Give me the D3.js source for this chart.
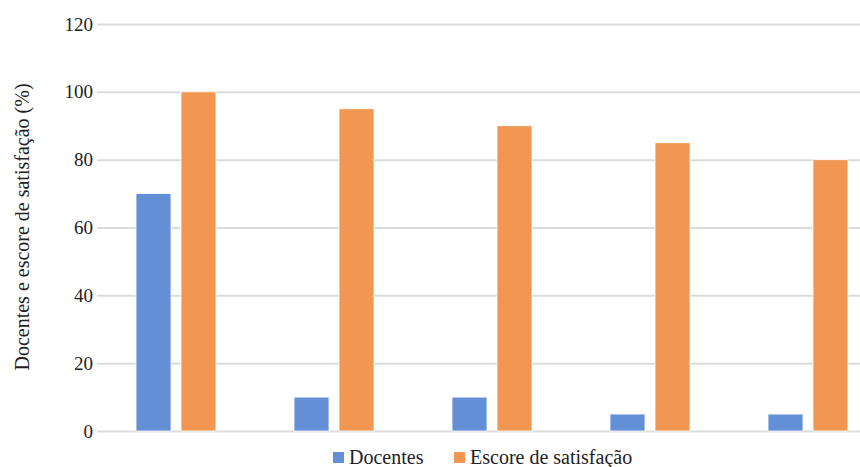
<!DOCTYPE html>
<html>
<head>
<meta charset="utf-8">
<script src="https://cdn.jsdelivr.net/npm/d3@7"></script>
<style>
  html, body { margin: 0; padding: 0; background: #fff; }
  svg { display: block; }
  svg text { font-family: "Liberation Serif", "DejaVu Serif", "Noto Serif", "Times New Roman", Times, serif !important; fill: #222; }
</style>
</head>
<body>
<svg id="chart" width="860" height="467"></svg>
<script>
// Groups (unlabelled on the axis)
const categories = ["G1", "G2", "G3", "G4", "G5"];
const seriesNames = ["Docentes", "Escore de satisfação"];
const docentes = [70, 10, 10, 5, 5];
const escore = [100, 95, 90, 85, 80];
const yTicks = [0, 20, 40, 60, 80, 100, 120];
const yLabel = "Docentes e escore de satisfação (%)";

const colors = ["#628fd6", "#f19752"];
const W = 860, H = 467;
const plotLeft = 97, plotRight = 887, plotTop = 24, plotBottom = 431;

const svg = d3.select("#chart");

const x = d3.scaleBand().domain(categories).range([plotLeft, plotRight]).paddingInner(0).paddingOuter(0);
const xs = d3.scaleBand().domain(seriesNames).range([0, x.bandwidth()]).paddingInner(0.222).paddingOuter(0.867);
const y = d3.scaleLinear().domain([0, 120]).range([plotBottom, plotTop]);

// Gridlines + tick labels
const yAxis = d3.axisLeft(y).tickValues(yTicks).tickSize(-(W - plotLeft)).tickPadding(6);
const gy = svg.append("g").attr("transform", `translate(${plotLeft},0)`).call(yAxis)
  .attr("font-family", null).attr("font-size", null);
gy.select(".domain").remove();
gy.selectAll(".tick line").attr("stroke", "#dcdcdc").attr("stroke-width", 2);
gy.selectAll(".tick text")
  .attr("x", -4)
  .style("font-size", "19px")
  .attr("fill", "#222");

// Bars
const rows = categories.map((c, i) => ({ c, values: [docentes[i], escore[i]] }));
const groups = svg.append("g").selectAll("g").data(rows).join("g")
  .attr("transform", d => `translate(${x(d.c)},0)`);
groups.selectAll("rect")
  .data(d => d.values.map((v, k) => ({ k, v })))
  .join("rect")
  .attr("x", d => xs(seriesNames[d.k]))
  .attr("width", xs.bandwidth())
  .attr("y", d => y(d.v))
  .attr("height", d => y(0) - y(d.v))
  .attr("fill", d => colors[d.k])
  .attr("stroke", "#fff")
  .attr("stroke-width", 0.8);

// Y-axis title
svg.append("text")
  .attr("transform", `translate(29,227) rotate(-90)`)
  .attr("text-anchor", "middle")
  .style("font-size", "20px")
  .text(yLabel);

// Legend
const legendX = [333, 454];
const lg = svg.append("g").selectAll("g").data(seriesNames).join("g")
  .attr("transform", (d, i) => `translate(${legendX[i]},452)`);
lg.append("rect").attr("width", 11).attr("height", 11).attr("y", 0)
  .attr("fill", (d, i) => colors[i]);
lg.append("text").attr("x", 16).attr("y", 12)
  .style("font-size", "20px")
  .text(d => d);
</script>
</body>
</html>
